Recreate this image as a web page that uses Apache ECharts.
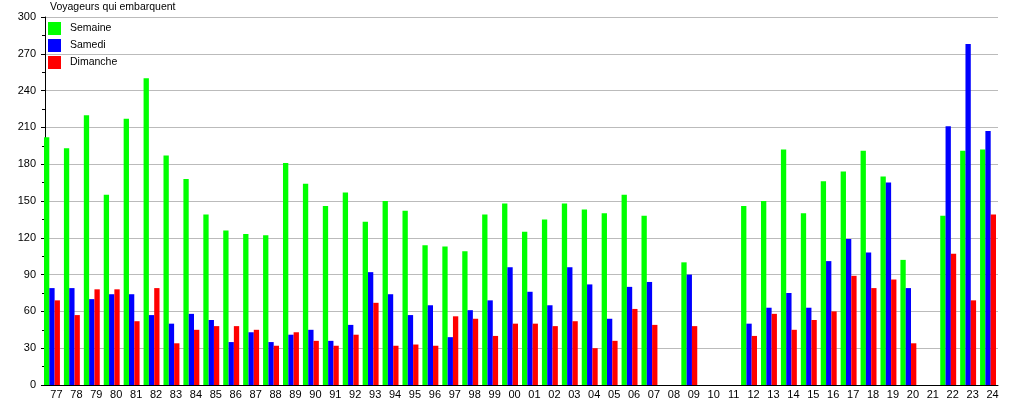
<!DOCTYPE html>
<html>
<head>
<meta charset="utf-8">
<script src="https://cdn.jsdelivr.net/npm/echarts@6/dist/echarts.min.js"></script>
<style>
html,body{margin:0;padding:0;background:#fff;}
#c{width:1015px;height:400px;}
</style>
</head>
<body>
<div id="c"></div>
<script>
const categories = ['77','78','79','80','81','82','83','84','85','86','87','88','89','90','91','92','93','94','95','96','97','98','99',
  '00','01','02','03','04','05','06','07','08','09','10','11','12','13','14','15','16','17','18','19','20','21','22','23','24'];
const semaine = [202,193,220,155,217,250,187,168,139,126,123,122,181,164,146,157,133,150,142,114,113,109,139,
  148,125,135,148,143,140,155,138,null,100,null,null,146,150,192,140,166,174,191,170,102,null,138,191,192];
const samedi = [79,79,70,74,74,57,50,58,53,35,43,35,41,45,36,49,92,74,57,65,39,61,69,
  96,76,65,96,82,54,80,84,null,90,null,null,50,63,75,63,101,119,108,165,79,null,211,278,207];
const dimanche = [69,57,78,78,52,79,34,45,48,48,45,32,43,36,32,41,67,32,33,32,56,54,40,
  50,50,48,52,30,36,62,49,null,48,null,null,40,58,45,53,60,89,79,86,34,null,107,69,139];
const yTicks = {min:0, max:300, interval:30};
const title = 'Voyageurs qui embarquent';

const font = 'Liberation Sans, Arial, sans-serif';
const chart = echarts.init(document.getElementById('c'), null, {renderer:'canvas'});
chart.setOption({
  animation:false,
  backgroundColor:'#fff',
  textStyle:{fontFamily:font},
  title:{text:title, left:50, top:2, padding:0,
    textStyle:{fontSize:10.5, fontWeight:'normal', color:'#000', fontFamily:font}},
  legend:{orient:'vertical', left:48, top:22, itemWidth:13, itemHeight:13, itemGap:4,
    icon:'rect', padding:0,
    textStyle:{fontSize:10.5, color:'#000', fontFamily:font, padding:[3,0,0,4]},
    data:['Semaine','Samedi','Dimanche']},
  grid:{left:42, right:17, top:17, bottom:13, containLabel:false},
  xAxis:{type:'category', data:categories,
    axisLine:{lineStyle:{color:'#000', width:1}},
    axisTick:{show:false},
    axisLabel:{fontSize:11, color:'#000', margin:4, interval:0, padding:[0,0,0,9], fontFamily:font},
    splitLine:{show:false}},
  yAxis:{type:'value', min:yTicks.min, max:yTicks.max, interval:yTicks.interval, offset:-3,
    axisLine:{show:true, lineStyle:{color:'#000', width:1}},
    axisTick:{show:true, length:4, lineStyle:{color:'#000'}},
    minorTick:{show:true, splitNumber:2, length:3, lineStyle:{color:'#000'}},
    axisLabel:{fontSize:11, color:'#000', margin:9, fontFamily:font},
    splitLine:{show:true, lineStyle:{color:'#bbbbbb', width:1}}},
  series:[
    {name:'Semaine', type:'bar', data:semaine, itemStyle:{color:'#00ff00'}, barGap:'0%', barCategoryGap:'20%'},
    {name:'Samedi', type:'bar', data:samedi, itemStyle:{color:'#0000ff'}, barGap:'0%', barCategoryGap:'20%'},
    {name:'Dimanche', type:'bar', data:dimanche, itemStyle:{color:'#ff0000'}, barGap:'0%', barCategoryGap:'20%'}
  ]
});
</script>
</body>
</html>
